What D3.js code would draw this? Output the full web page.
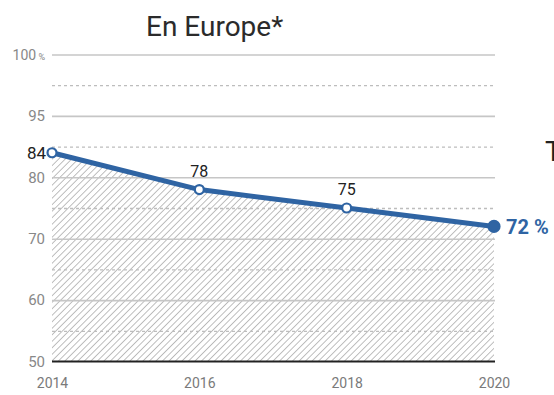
<!DOCTYPE html>
<html>
<head>
<meta charset="utf-8">
<script src="https://cdn.jsdelivr.net/npm/d3@7"></script>
<style>
  body { margin: 0; background: #fff; }
  svg { display: block; font-family: Roboto, "Open Sans", sans-serif; }
</style>
</head>
<body>
<div id="chart"></div>
<script>
// values
var years = [2014, 2016, 2018, 2020];
var shares = [84, 78, 75, 72];
var yTickValues = [50, 60, 70, 80, 90, 100];
var yTickLabels = ["50", "60", "70", "80", "95", "100"];   // the original prints 95 on the 90 line
var dashedValues = [55, 65, 75, 85, 95];
var title = "En Europe*";

var margin = {top: 54.5, right: 60, bottom: 33.5, left: 52},
    fullwidth = 554,
    fullheight = 395,
    width = fullwidth - margin.left - margin.right,
    height = fullheight - margin.top - margin.bottom;

var blue = "#2f64a3";

var data = years.map(function(d, i) { return {year: d, value: shares[i]}; });

var svgRoot = d3.select("#chart")
    .append("svg")
    .attr("width", fullwidth)
    .attr("height", fullheight);

// hatch pattern for the area
var pattern = svgRoot.append("defs").append("pattern")
    .attr("id", "hatch")
    .attr("patternUnits", "userSpaceOnUse")
    .attr("width", 4.6)
    .attr("height", 4.6)
    .attr("patternTransform", "rotate(45)");
pattern.append("line")
    .attr("x1", 0).attr("y1", 0)
    .attr("x2", 0).attr("y2", 4.6)
    .style("stroke", "#a9a9a9")
    .style("stroke-width", 1.5);

var svg = svgRoot.append("g")
    .attr("transform", "translate(" + margin.left + "," + margin.top + ")");

var xScale = d3.scaleLinear()
    .domain([2014, 2020])
    .range([0, width]);

var yScale = d3.scaleLinear()
    .domain([50, 100])
    .range([height, 0]);

// title
svgRoot.append("text")
    .attr("x", 146)
    .attr("y", 36)
    .style("font-size", "28px")
    .style("fill", "#2b2b2b")
    .text(title);

// fragment of the neighbouring chart
svgRoot.append("text")
    .attr("x", 545)
    .attr("y", 161)
    .style("font-size", "28px")
    .style("fill", "#222")
    .text("T");

// hatched area under the line
var area = d3.area()
    .x(function(d) { return xScale(d.year); })
    .y0(height)
    .y1(function(d) { return yScale(d.value); });

svg.append("path")
    .datum(data)
    .attr("d", area)
    .style("fill", "url(#hatch)");

// gridlines
var grid = svg.append("g")
    .classed("grid", true)
    .call(d3.axisLeft(yScale)
        .tickValues(yTickValues.slice(1))
        .tickSize(-width - 1)
        .tickFormat(""));
grid.select(".domain").remove();
grid.selectAll("line")
    .style("stroke", "#c6c6c6")
    .style("stroke-width", 1.6);

var dashed = svg.append("g")
    .classed("grid dashed", true)
    .call(d3.axisLeft(yScale)
        .tickValues(dashedValues)
        .tickSize(-width - 1)
        .tickFormat(""));
dashed.select(".domain").remove();
dashed.selectAll("line")
    .style("stroke", "#bdbdbd")
    .style("stroke-width", 1.3)
    .style("stroke-dasharray", "3,3");

// y axis labels
var yAxisEle = svg.append("g")
    .classed("y axis", true)
    .call(d3.axisLeft(yScale)
        .tickValues(yTickValues)
        .tickSize(0)
        .tickPadding(7)
        .tickFormat(function(d, i) { return yTickLabels[i]; }));
yAxisEle.select(".domain").remove();
yAxisEle.selectAll("text")
    .style("font-size", "15px")
    .style("fill", "#888")
    .style("font-family", "Roboto, sans-serif");
yAxisEle.selectAll(".tick")
    .filter(function(d) { return d === 100; })
    .select("text")
    .text(null)
    .call(function(t) {
        t.append("tspan").style("font-size", "14px").text("100");
        t.append("tspan").style("font-size", "9px").text(" %");
    });

// baseline
svg.append("line")
    .attr("x1", 0)
    .attr("x2", width + 1)
    .attr("y1", height)
    .attr("y2", height)
    .style("stroke", "#222")
    .style("stroke-width", 2.2);

// x axis labels
var xAxisEle = svg.append("g")
    .classed("x axis", true)
    .attr("transform", "translate(0," + height + ")")
    .call(d3.axisBottom(xScale)
        .tickValues(years)
        .tickSize(0)
        .tickPadding(17)
        .tickFormat(d3.format("d")));
xAxisEle.select(".domain").remove();
xAxisEle.selectAll("text")
    .style("font-size", "14px")
    .style("fill", "#7a7a7a")
    .style("font-family", "Roboto, sans-serif");

// line
var line = d3.line()
    .x(function(d) { return xScale(d.year); })
    .y(function(d) { return yScale(d.value); });

svg.append("path")
    .datum(data)
    .attr("d", line)
    .style("fill", "none")
    .style("stroke", blue)
    .style("stroke-width", 5)
    .style("stroke-linejoin", "round");

// points
var last = data.length - 1;
svg.selectAll("circle.pt")
    .data(data)
    .enter().append("circle")
    .classed("pt", true)
    .attr("cx", function(d) { return xScale(d.year); })
    .attr("cy", function(d) { return yScale(d.value); })
    .attr("r", function(d, i) { return i === last ? 5.5 : 4.5; })
    .style("fill", function(d, i) { return i === last ? blue : "#fff"; })
    .style("stroke", blue)
    .style("stroke-width", 2.2);

// value labels
svg.selectAll("text.val")
    .data(data)
    .enter().append("text")
    .classed("val", true)
    .attr("x", function(d, i) { return i === 0 ? xScale(d.year) - 6 : i === last ? xScale(d.year) + 12 : xScale(d.year); })
    .attr("y", function(d, i) { return i === 0 || i === last ? yScale(d.value) : yScale(d.value) - 13; })
    .attr("dy", function(d, i) { return i === 0 || i === last ? "0.36em" : "0"; })
    .style("text-anchor", function(d, i) { return i === 0 ? "end" : i === last ? "start" : "middle"; })
    .style("font-size", function(d, i) { return i === last ? "20px" : i === 0 ? "17px" : "16px"; })
    .style("font-weight", function(d, i) { return i === last ? "bold" : "normal"; })
    .style("fill", function(d, i) { return i === last ? blue : "#222"; })
    .text(function(d, i) { return i === last ? d.value + " %" : d.value; });
</script>
</body>
</html>
